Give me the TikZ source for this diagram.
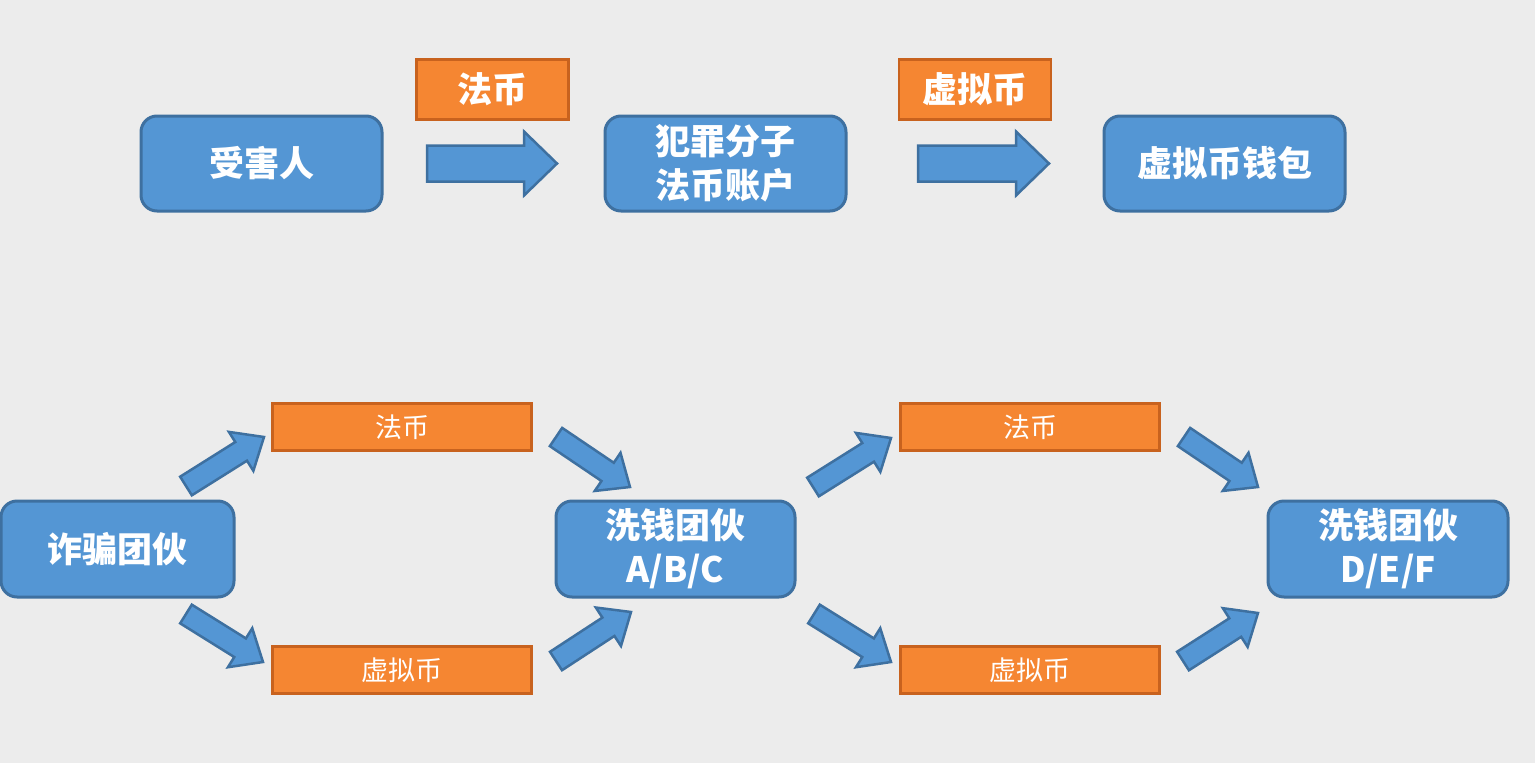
\documentclass[tikz,border=0pt]{standalone}
\usepackage{fontspec}
\newfontfamily\cjk{Noto Sans CJK SC}
\usetikzlibrary{calc}
\definecolor{bgcol}{RGB}{236,236,236}
\definecolor{bluefill}{RGB}{84,150,212}
\definecolor{blueborder}{RGB}{62,112,160}
\definecolor{orangefill}{RGB}{245,134,50}
\definecolor{orangeborder}{RGB}{200,98,30}
\tikzset{
  bluebox/.style={rectangle, rounded corners=16pt, draw=blueborder, line width=3pt,
    fill=bluefill, text=white, align=center, inner sep=0pt,
    font=\cjk\bfseries\fontsize{35}{44}\selectfont},
  orangetag/.style={rectangle, draw=orangeborder, line width=2.5pt, fill=orangefill,
    text=white, inner sep=0pt, minimum width=152pt, minimum height=60pt,
    font=\cjk\bfseries\fontsize{35}{40}\selectfont},
  orangebar/.style={rectangle, draw=orangeborder, line width=2.5pt, fill=orangefill,
    text=white, inner sep=0pt, minimum width=259pt, minimum height=47pt,
    font=\cjk\fontsize{27}{30}\selectfont},
  blockarrow/.style={fill=bluefill, draw=blueborder, line width=2.5pt, line join=miter}
}
% #1 from, #2 to, #3 shaft half width, #4 head half width, #5 head length
\newcommand{\blockarr}[5]{%
  \coordinate (hb) at ($(#2)!#5!(#1)$);
  \coordinate (ha) at ($(#2)!2!(hb)$);
  \path[blockarrow] ($(#1)!#3!90:(#2)$) -- ($(hb)!#3!-90:(ha)$) -- ($(hb)!#4!-90:(ha)$)
    -- (#2) -- ($(hb)!#4!90:(ha)$) -- ($(hb)!#3!90:(ha)$) -- ($(#1)!#3!-90:(#2)$) -- cycle;
}
\begin{document}
\begin{tikzpicture}[x=1pt,y=-1pt]
\useasboundingbox (0,0) rectangle (1535,763);
\fill[bgcol] (0,0) rectangle (1535,763);

% top row
\node[bluebox, minimum width=241pt, minimum height=95pt] (victim) at (261.5,163.5) {受害人};
\node[bluebox, minimum width=241pt, minimum height=95pt] (crim) at (725.5,163.5) {犯罪分子\\法币账户};
\node[bluebox, minimum width=241pt, minimum height=95pt] (wallet) at (1224.5,163.5) {虚拟币钱包};
\node[orangetag] (tag1) at (492.5,89.5) {法币};
\node[orangetag] (tag2) at (975,89.5) {虚拟币};

\coordinate (t1a) at (427,163.5); \coordinate (t1b) at (557,163.5);
\coordinate (t2a) at (918,163.5); \coordinate (t2b) at (1049,163.5);
\blockarr{t1a}{t1b}{18pt}{32pt}{33pt}
\blockarr{t2a}{t2b}{18pt}{32pt}{33pt}

% bottom row
\node[bluebox, minimum width=233pt, minimum height=96pt] (fraud) at (117.5,549) {诈骗团伙};
\node[bluebox, minimum width=239pt, minimum height=96pt] (abc) at (675.5,549) {洗钱团伙\\A/B/C};
\node[bluebox, minimum width=240pt, minimum height=96pt] (def) at (1388,549) {洗钱团伙\\D/E/F};
\node[orangebar] (f1) at (402,427) {法币};
\node[orangebar] (v1) at (402,670) {虚拟币};
\node[orangebar] (f2) at (1030,427) {法币};
\node[orangebar] (v2) at (1030,670) {虚拟币};

\coordinate (d1a) at (186,486);  \coordinate (d1b) at (264,437);
\coordinate (d2a) at (556,437);  \coordinate (d2b) at (630,487);
\coordinate (d3a) at (186,614);  \coordinate (d3b) at (263,662);
\coordinate (d4a) at (556,661);  \coordinate (d4b) at (631,612);
\coordinate (d5a) at (813,487);  \coordinate (d5b) at (891,438);
\coordinate (d6a) at (1184,437); \coordinate (d6b) at (1258,487);
\coordinate (d7a) at (814,614);  \coordinate (d7b) at (891,662);
\coordinate (d8a) at (1183,661); \coordinate (d8b) at (1258,613);
\foreach \i in {1,...,8}{\blockarr{d\i a}{d\i b}{11pt}{23pt}{27pt}}
\end{tikzpicture}
\end{document}
